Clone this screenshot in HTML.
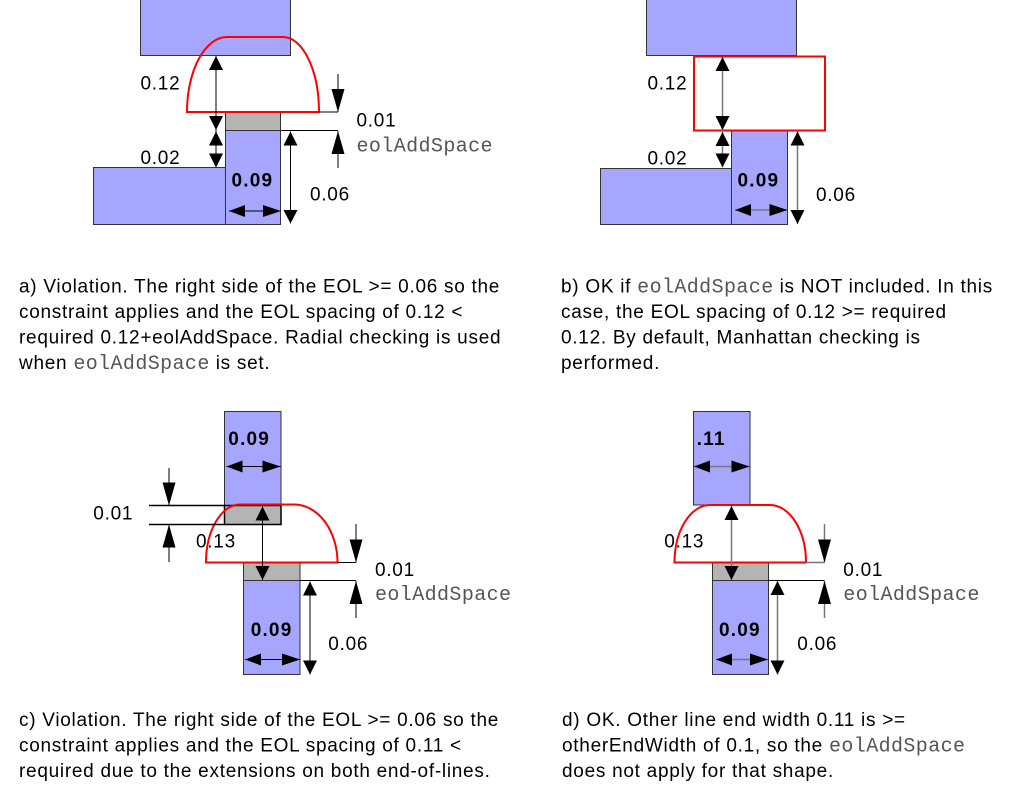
<!DOCTYPE html>
<html>
<head>
<meta charset="utf-8">
<style>
html,body{margin:0;padding:0;background:#fff;}
svg{display:block;}
.t{font-family:"Liberation Sans",Arial,sans-serif;font-size:19px;letter-spacing:0.72px;fill:#000;}
.b{font-family:"Liberation Sans",Arial,sans-serif;font-size:19px;font-weight:bold;letter-spacing:1.2px;fill:#000;}
.m{font-family:"Liberation Mono","Courier New",monospace;font-size:20px;letter-spacing:0.4px;fill:#555;}
.blue{fill:#a6a6fe;stroke:#333;stroke-width:1;}
.gray{fill:#b4b4b4;stroke:#333;stroke-width:1;}
.red{fill:none;stroke:#f00;stroke-width:2;}
.k{stroke:#000;stroke-width:1;fill:none;}
.g{stroke:#777;stroke-width:1.5;fill:none;}
polygon{fill:#000;}
</style>
</head>
<body>
<svg width="1013" height="798" viewBox="0 0 1013 798" xmlns="http://www.w3.org/2000/svg">

<!-- ================= Panel A ================= -->
<rect class="blue" x="140.5" y="-1" width="150" height="56.5"/>
<rect class="blue" x="93.5" y="167.5" width="132" height="57"/>
<rect class="blue" x="225.5" y="130.5" width="55" height="94"/>
<rect class="gray" x="225.5" y="112" width="55" height="18.5"/>
<path class="red" d="M187,112 L319,112 A36,75 0 0 0 283,37 L227,37 A40,75 0 0 0 187,112 Z"/>
<line class="k" x1="319" y1="112" x2="338" y2="112"/>
<line class="k" x1="281" y1="130.5" x2="338" y2="130.5"/>
<line class="k" x1="338" y1="74" x2="338" y2="112"/>
<polygon points="338,112 331.5,89 344.5,89"/>
<line class="k" x1="338" y1="131" x2="338" y2="168"/>
<polygon points="338,131 331.5,154 344.5,154"/>
<line class="k" x1="216" y1="56" x2="216" y2="167"/>
<polygon points="216,56 209,70 223,70"/>
<polygon points="216,130 209,116 223,116"/>
<polygon points="216,131.5 209,145.5 223,145.5"/>
<polygon points="216,167.5 209,153.5 223,153.5"/>
<line class="k" x1="290.5" y1="131.5" x2="290.5" y2="223.5"/>
<polygon points="290.5,131.5 283.5,145.5 297.5,145.5"/>
<polygon points="290.5,223.5 283.5,210 297.5,210"/>
<line class="k" x1="229" y1="211" x2="281" y2="211"/>
<polygon points="229,211 245,205 245,217"/>
<polygon points="281,211 263,205 263,217"/>
<text class="t" x="140.5" y="89.3">0.12</text>
<text class="t" x="140.5" y="164">0.02</text>
<text class="b" x="231.5" y="186.7">0.09</text>
<text class="t" x="310" y="200.7">0.06</text>
<text class="t" x="356.5" y="126.7">0.01</text>
<text class="m" x="356.5" y="151.7">eolAddSpace</text>

<!-- ================= Panel B ================= -->
<rect class="blue" x="646.5" y="-1" width="150" height="56.5"/>
<rect class="blue" x="600.5" y="168.5" width="131" height="56"/>
<rect class="blue" x="731.5" y="131" width="56" height="93.5"/>
<rect class="red" x="694" y="56.5" width="131" height="74"/>
<line class="g" x1="722.5" y1="57" x2="722.5" y2="167"/>
<polygon points="722.5,57 715.5,71 729.5,71"/>
<polygon points="722.5,130 715.5,116 729.5,116"/>
<polygon points="722.5,132 715.5,146 729.5,146"/>
<polygon points="722.5,167.5 715.5,153.5 729.5,153.5"/>
<line class="g" x1="797.5" y1="131.5" x2="797.5" y2="224"/>
<polygon points="797.5,131.5 790.5,145.5 804.5,145.5"/>
<polygon points="797.5,224 790.5,210 804.5,210"/>
<line class="g" x1="735" y1="210" x2="787.5" y2="210"/>
<polygon points="735,210 751,204 751,216"/>
<polygon points="787.5,210 769.5,204 769.5,216"/>
<text class="t" x="647.5" y="89.3">0.12</text>
<text class="t" x="647.5" y="164.3">0.02</text>
<text class="b" x="737.5" y="186.7">0.09</text>
<text class="t" x="816" y="201">0.06</text>

<!-- ================= Panel C ================= -->
<rect class="blue" x="224.5" y="411.5" width="56.5" height="94"/>
<rect class="gray" x="224.5" y="505.5" width="56.5" height="19" style="stroke:#000;stroke-width:1.5"/>
<rect class="blue" x="243.5" y="580.5" width="56.5" height="94"/>
<rect class="gray" x="243.5" y="562.5" width="56.5" height="18"/>
<path class="red" d="M206,562.5 L337.5,562.5 A43.5,58 0 0 0 294,504.5 L240,504.5 A34,58 0 0 0 206,562.5 Z"/>
<line class="k" x1="149" y1="505.5" x2="224.5" y2="505.5" style="stroke-width:1.5"/>
<line class="k" x1="149" y1="524.5" x2="224.5" y2="524.5" style="stroke-width:1.5"/>
<line class="k" x1="169" y1="468" x2="169" y2="505"/>
<polygon points="169,505.5 162.5,482.5 175.5,482.5"/>
<line class="k" x1="169" y1="525" x2="169" y2="562"/>
<polygon points="169,524.5 162.5,547.5 175.5,547.5"/>
<line class="k" x1="262.5" y1="506.5" x2="262.5" y2="580"/>
<polygon points="262.5,506.5 255.5,520.5 269.5,520.5"/>
<polygon points="262.5,580 255.5,566 269.5,566"/>
<line class="k" x1="337.5" y1="562.5" x2="356" y2="562.5"/>
<line class="k" x1="300" y1="580.5" x2="356" y2="580.5"/>
<line class="k" x1="356" y1="524" x2="356" y2="562.5"/>
<polygon points="356,562.5 349.5,539.5 362.5,539.5"/>
<line class="k" x1="356" y1="581" x2="356" y2="618"/>
<polygon points="356,581 349.5,604 362.5,604"/>
<line class="k" x1="226.5" y1="466.5" x2="280.5" y2="466.5"/>
<polygon points="226.5,466.5 242.5,460.5 242.5,472.5"/>
<polygon points="280.5,466.5 262.5,460.5 262.5,472.5"/>
<line class="k" x1="245" y1="659.5" x2="300" y2="659.5"/>
<polygon points="245,659.5 261,653.5 261,665.5"/>
<polygon points="300,659.5 282,653.5 282,665.5"/>
<line class="k" x1="310" y1="581.5" x2="310" y2="674.5"/>
<polygon points="310,581.5 303,595.5 317,595.5"/>
<polygon points="310,674.5 303,660.5 317,660.5"/>
<text class="b" x="228.3" y="445">0.09</text>
<text class="t" x="93.3" y="519.3">0.01</text>
<text class="t" x="196" y="547.7">0.13</text>
<text class="t" x="375" y="576">0.01</text>
<text class="m" x="375" y="600">eolAddSpace</text>
<text class="b" x="250.7" y="636">0.09</text>
<text class="t" x="328.3" y="650">0.06</text>

<!-- ================= Panel D ================= -->
<rect class="blue" x="693.5" y="411.5" width="56.5" height="93.5"/>
<line class="g" x1="694" y1="466.5" x2="749.5" y2="466.5"/>
<polygon points="694,466.5 710,460.5 710,472.5"/>
<polygon points="749.5,466.5 731.5,460.5 731.5,472.5"/>
<rect class="blue" x="712.5" y="580.5" width="56" height="94"/>
<rect class="gray" x="712.5" y="562.5" width="56" height="18"/>
<path class="red" d="M674.5,562.5 L806,562.5 A36,57.5 0 0 0 770,505 L710,505 A35.5,57.5 0 0 0 674.5,562.5 Z"/>
<line class="g" x1="731.5" y1="506" x2="731.5" y2="580"/>
<polygon points="731.5,506 724.5,520 738.5,520"/>
<polygon points="731.5,580 724.5,566 738.5,566"/>
<line class="g" x1="806" y1="562.5" x2="824.5" y2="562.5"/>
<line class="k" x1="768.5" y1="580.5" x2="824.5" y2="580.5"/>
<line class="g" x1="824.5" y1="524" x2="824.5" y2="562.5"/>
<polygon points="824.5,562.5 818,539.5 831,539.5"/>
<line class="g" x1="824.5" y1="581" x2="824.5" y2="618"/>
<polygon points="824.5,581 818,604 831,604"/>
<line class="g" x1="716" y1="659.5" x2="768" y2="659.5"/>
<polygon points="716,659.5 732,653.5 732,665.5"/>
<polygon points="768,659.5 750,653.5 750,665.5"/>
<line class="g" x1="777.5" y1="581" x2="777.5" y2="674.5"/>
<polygon points="777.5,581 770.5,595 784.5,595"/>
<polygon points="777.5,674.5 770.5,660.5 784.5,660.5"/>
<text class="b" x="696.7" y="445">.11</text>
<text class="t" x="664.3" y="547.7">0.13</text>
<text class="t" x="843.3" y="576">0.01</text>
<text class="m" x="843.3" y="600">eolAddSpace</text>
<text class="b" x="719" y="636">0.09</text>
<text class="t" x="797.3" y="650">0.06</text>

<!-- ================= Captions ================= -->
<text class="t" x="19" y="292.5">a) Violation. The right side of the EOL &gt;= 0.06 so the</text>
<text class="t" x="19" y="318">constraint applies and the EOL spacing of 0.12 &lt;</text>
<text class="t" x="19" y="343.4">required 0.12+eolAddSpace. Radial checking is used</text>
<text class="t" x="19" y="368.8">when <tspan class="m">eolAddSpace</tspan> is set.</text>

<text class="t" x="561" y="292.5">b) OK if <tspan class="m">eolAddSpace</tspan> is NOT included. In this</text>
<text class="t" x="561" y="318">case, the EOL spacing of 0.12 &gt;= required</text>
<text class="t" x="561" y="343.4">0.12. By default, Manhattan checking is</text>
<text class="t" x="561" y="368.8">performed.</text>

<text class="t" x="19" y="726">c) Violation. The right side of the EOL &gt;= 0.06 so the</text>
<text class="t" x="19" y="751.5">constraint applies and the EOL spacing of 0.11 &lt;</text>
<text class="t" x="19" y="777">required due to the extensions on both end-of-lines.</text>

<text class="t" x="562" y="726">d) OK. Other line end width 0.11 is &gt;=</text>
<text class="t" x="562" y="751.5">otherEndWidth of 0.1, so the <tspan class="m">eolAddSpace</tspan></text>
<text class="t" x="562" y="777">does not apply for that shape.</text>
</svg>
</body>
</html>
